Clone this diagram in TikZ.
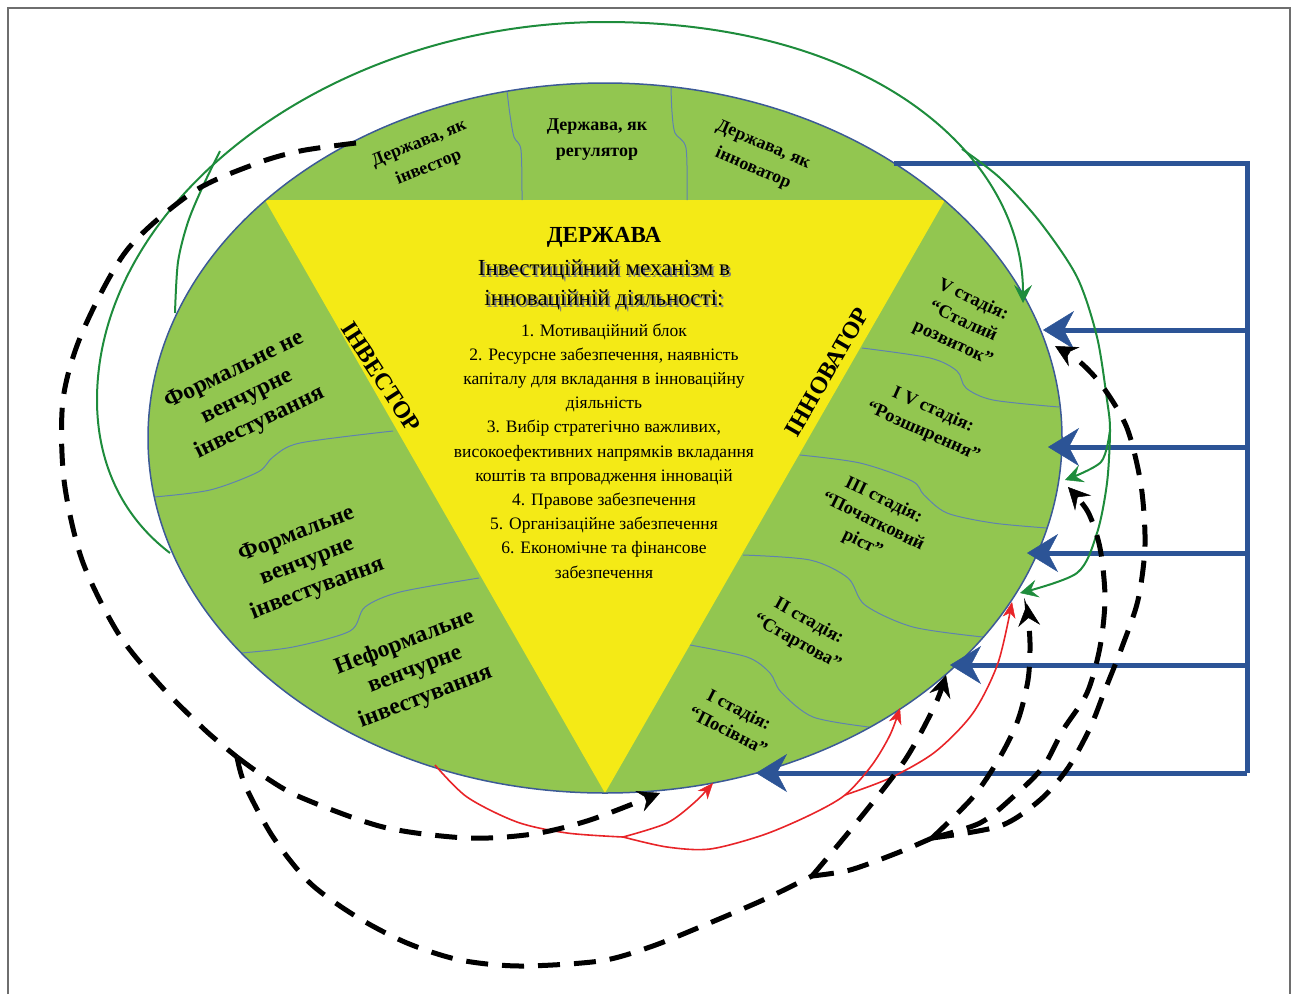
\documentclass[tikz,border=0pt]{standalone}
\usepackage{fontspec}
\setmainfont{Liberation Serif}
\usetikzlibrary{arrows.meta}
\definecolor{grn}{RGB}{146,198,80}
\definecolor{yel}{RGB}{244,234,22}
\definecolor{navy}{RGB}{44,84,150}
\definecolor{dgreen}{RGB}{30,140,60}
\definecolor{rred}{RGB}{232,36,40}
\definecolor{edgec}{RGB}{60,90,150}
\definecolor{divc}{RGB}{95,130,175}
\definecolor{framec}{RGB}{110,110,110}
\begin{document}
\begin{tikzpicture}[x=1pt,y=-1pt,
  seg/.style={font=\bfseries\fontsize{18}{26}\selectfont, align=center, inner sep=0pt},
  lft/.style={font=\bfseries\fontsize{23.5}{29}\selectfont, align=center, inner sep=0pt},
  stg/.style={font=\bfseries\fontsize{18.5}{24}\selectfont, align=center, inner sep=0pt},
  role/.style={font=\bfseries\fontsize{24}{28}\selectfont, inner sep=0pt},
  divl/.style={draw=divc, line width=1pt},
  bluearr/.style={draw=navy, line width=5pt, -{Stealth[length=31pt,width=38pt,inset=10pt,line width=0.5pt]}},
  gline/.style={draw=dgreen, line width=2pt},
  garr/.style={gline, -{Stealth[length=18pt,width=18pt,inset=7pt,line width=0.5pt]}},
  rline/.style={draw=rred, line width=1.6pt},
  rarr/.style={rline, -{Stealth[length=16pt,width=13pt,inset=5pt,line width=0.5pt]}},
  dline/.style={draw=black, line width=5pt, dash pattern=on 22pt off 14pt},
  darr/.style={dline, -{Stealth[length=22pt,width=22pt,inset=8pt,line width=0.5pt]}},
]
\useasboundingbox (0,0) rectangle (1293,994);
% frame
\draw[framec, line width=2pt] (8,994) -- (8,8) -- (1290,8) -- (1290,994);

% ellipse and triangle
\fill[grn] (605,438) ellipse (457pt and 355pt);
\fill[yel] (265,200) -- (945,200) -- (605,793) -- cycle;

% dividers
\draw[divl] plot[smooth] coordinates {(507,91) (510,115) (514,137) (521,150) (522,200)};
\draw[divl] plot[smooth] coordinates {(671,87) (672,112) (675,133) (686,148) (687,200)};
\draw[divl] plot[smooth] coordinates {(154,497) (210,490) (258,472) (273,457) (300,443) (393,431)};
\draw[divl] plot[smooth] coordinates {(241,653) (293,647) (350,631) (365,607) (400,592) (479,578)};
\draw[divl] plot[smooth] coordinates {(862,348) (930,358) (957,371) (966,388) (993,400) (1059,407)};
\draw[divl] plot[smooth] coordinates {(800,455) (860,463) (912,481) (924,495) (947,513) (993,523) (1047,528)};
\draw[divl] plot[smooth] coordinates {(743,555) (810,560) (848,578) (865,605) (913,627) (983,637)};
\draw[divl] plot[smooth] coordinates {(690,645) (747,657) (770,673) (781,692) (813,717) (869,727)};

\draw[edgec, line width=1.5pt] (605,438) ellipse (457pt and 355pt);

% texts top
\node[seg, rotate=22] (dinv) at (424,156) {Держава, як\\інвестор};
\node[seg] (dreg) at (597,140) {Держава, як\\регулятор};
\node[seg, rotate=-23] (dinn) at (758,157) {Держава, як\\інноватор};

% center texts
\node[font=\bfseries\fontsize{23}{26}\selectfont, inner sep=0pt] (title) at (604,237) {ДЕРЖАВА};
\node[font=\fontsize{23}{30}\selectfont, align=center, inner sep=0pt, text=black!50] (subsh) at (606,287) {Інвестиційний механізм в\\інноваційній діяльності:};
\node[font=\fontsize{23}{30}\selectfont, align=center, inner sep=0pt] (sub) at (604,285) {Інвестиційний механізм в\\інноваційній діяльності:};
\node[font=\fontsize{17.5}{24.2}\selectfont, align=center, inner sep=0pt] (lst) at (604,451) {1. Мотиваційний блок\\
2. Ресурсне забезпечення, наявність\\
капіталу для вкладання в інноваційну\\
діяльність\\
3. Вибір стратегічно важливих,\\
високоефективних напрямків вкладання\\
коштів та впровадження інновацій\\
4. Правове забезпечення\\
5. Організаційне забезпечення\\
6. Економічне та фінансове\\
забезпечення};

\node[role, rotate=-57] (inv) at (381,377) {ІНВЕСТОР};
\node[role, rotate=60] (innv) at (827,372) {ІННОВАТОР};

% left texts
\node[lft, rotate=26] (f1) at (247,397) {Формальне не\\венчурне\\інвестування};
\node[lft, rotate=21] (f2) at (307,562) {Формальне\\венчурне\\інвестування};
\node[lft, rotate=21] (f3) at (415,670) {Неформальне\\венчурне\\інвестування};

% stage texts
\node[stg, rotate=-25] (s5) at (963,322) {V стадія:\\“Сталий\\розвиток”};
\node[stg, rotate=-24] (s4) at (928,421) {I V стадія:\\“Розширення”};
\node[stg, rotate=-26] (s3) at (873,522) {III стадія:\\“Початковий\\ріст”};
\node[stg, rotate=-29] (s2) at (803,632) {II стадія:\\“Стартова”};
\node[stg, rotate=-27] (s1) at (734,720) {I стадія:\\“Посівна”};

% blue connectors
\coordinate (btop) at (894,163);
\coordinate (bc) at (1247,163);
\coordinate (bb) at (1247,773);
\coordinate (b5) at (1247,330); \coordinate (e5) at (1043,330);
\coordinate (b4) at (1247,447); \coordinate (e4) at (1048,447);
\coordinate (b3) at (1247,553); \coordinate (e3) at (1027,553);
\coordinate (b2) at (1247,665); \coordinate (e2) at (950,665);
\coordinate (b1) at (1247,773); \coordinate (e1) at (756,773);
\draw[navy, line width=5pt, line join=miter] (btop) -- (bc) -- (bb);
\draw[bluearr] (b5) -- (e5);
\draw[bluearr] (b4) -- (e4);
\draw[bluearr] (b3) -- (e3);
\draw[bluearr] (b2) -- (e2);
\draw[bluearr] (b1) -- (e1);

% green connectors
\coordinate (G0) at (170,553);
\coordinate (GL) at (97,400);
\coordinate (GT) at (605,22);
\coordinate (G5) at (1023,303);
\coordinate (GB) at (962,149);
\coordinate (GB2) at (1110,430);
\draw[garr] (G0) .. controls (120,515) and (97,460) .. (GL)
  .. controls (97,200) and (330,22) .. (GT)
  .. controls (880,22) and (1023,160) .. (G5);
\draw[gline] plot[smooth] coordinates {(175,313) (178,262) (188,222) (203,186) (220,151)};
\draw[garr] plot[smooth] coordinates {(962,149) (1000,178) (1040,222) (1077,277) (1097,337) (1107,400) (1110,430) (1107,483) (1097,533) (1077,573) (1020,593)};
\draw[garr] plot[smooth] coordinates {(1110,430) (1101,462) (1065,480)};

% red connectors
\coordinate (P1) at (623,837);
\coordinate (P2) at (845,795);
\draw[rline] plot[smooth] coordinates {(435,765) (467,797) (517,822) (567,833) (623,837)};
\draw[rarr] plot[smooth] coordinates {(623,837) (667,823) (695,802) (713,783)};
\draw[rarr] plot[smooth] coordinates {(623,837) (667,847) (710,849) (763,835) (810,815) (845,795) (872,765) (890,735) (900,708)};
\draw[rarr] plot[smooth] coordinates {(845,795) (890,778) (935,752) (973,713) (998,663) (1012,602)};

% black dashed connectors
\coordinate (J1) at (237,757);
\coordinate (J2) at (812,876);
\coordinate (J3) at (932,838);
\draw[dline] plot[smooth] coordinates {(356,143) (300,151) (255,164) (193,192) (127,250) (82,333) (63,400) (64,480) (82,560) (118,633) (160,685) (205,730) (237,757)};
\draw[darr] plot[smooth] coordinates {(237,757) (262,775) (300,797) (383,827) (467,838) (533,834) (590,820) (660,793)};
\draw[dline] plot[smooth] coordinates {(237,757) (245,785) (273,837) (310,883) (357,917) (407,943) (460,960) (520,966) (600,961) (650,947) (700,927) (763,900) (812,876)};
\draw[darr] plot[smooth] coordinates {(812,876) (857,822) (905,760) (935,705) (946,675)};
\draw[dline] plot[smooth] coordinates {(812,876) (850,870) (897,853) (932,838)};
\draw[darr] plot[smooth] coordinates {(932,838) (973,797) (1000,757) (1018,720) (1028,680) (1030,643) (1027,604)};
\draw[darr] plot[smooth] coordinates {(932,838) (980,823) (1013,797) (1043,767) (1063,730) (1087,693) (1100,647) (1105,598) (1100,548) (1088,512) (1068,487)};
\draw[darr] plot[smooth] coordinates {(932,838) (1000,826) (1040,800) (1068,768) (1090,728) (1105,690) (1122,647) (1138,600) (1145,545) (1141,485) (1127,428) (1103,387) (1080,362) (1055,346)};
\end{tikzpicture}
\end{document}
